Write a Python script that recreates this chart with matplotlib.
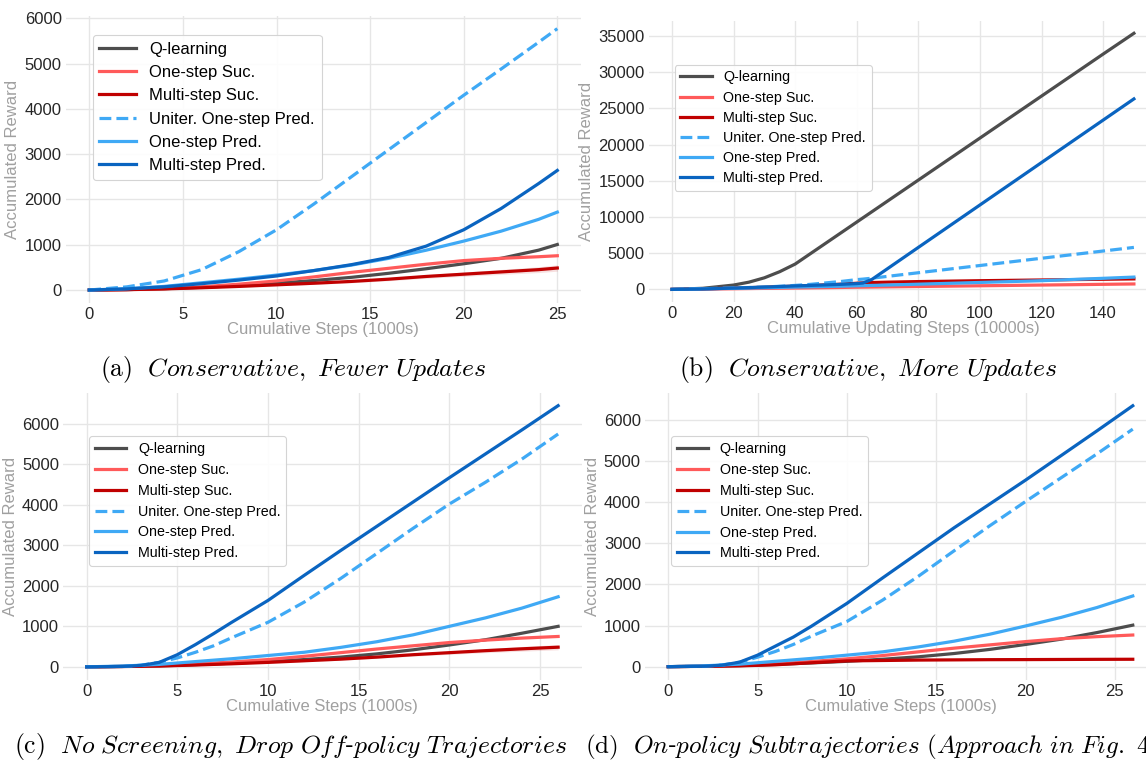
import numpy as np
import matplotlib
matplotlib.use("Agg")
import matplotlib.pyplot as plt

plt.rcParams['font.family'] = ['Liberation Sans', 'DejaVu Sans']
plt.rcParams['mathtext.fontset'] = 'cm'

W, H = 1146, 763

labels = ["Q-learning", "One-step Suc.", "Multi-step Suc.",
          "Uniter. One-step Pred.", "One-step Pred.", "Multi-step Pred."]
colors = ["#4d4d4d", "#ff5a5a", "#c00000", "#3fa9f5", "#3fa9f5", "#0a64c0"]
styles = ["-", "-", "-", "--", "-", "-"]

# (a) Conservative, fewer updates
x_a = [0, 2, 4, 6, 8, 10, 12, 14, 16, 18, 20, 22, 24, 25]
q_a = [0, 10, 30, 60, 100, 150, 210, 280, 370, 470, 580, 700, 880, 1005]
onesuc_a = [0, 10, 30, 70, 130, 200, 290, 390, 480, 570, 650, 700, 735, 757]
multisuc_a = [0, 8, 25, 50, 80, 115, 150, 190, 240, 300, 350, 400, 450, 486]
uniter_a = [0, 70, 200, 450, 850, 1330, 1900, 2500, 3100, 3700, 4300, 4880, 5470, 5770]
onepred_a = [0, 30, 80, 160, 240, 330, 430, 550, 700, 880, 1080, 1300, 1560, 1720]
multipred_a = [0, 25, 70, 140, 220, 310, 430, 560, 720, 970, 1330, 1800, 2350, 2640]
band_a = [0, 3, 6, 10, 15, 20, 25, 30, 35, 40, 48, 55, 65, 70]

# (b) Conservative, more updates
x_b = [0, 10, 20, 25, 30, 35, 40, 45, 50, 55, 60, 62, 65, 70, 80, 90, 100, 110, 120,
       130, 140, 150]
q_b = [0, 150, 600, 1000, 1600, 2450, 3500, 4950, 6400, 7850, 9300, 9880, 10750, 12200,
       15100, 18000, 20900, 23800, 26700, 29600, 32500, 35370]
onesuc_b = [0, 40, 90, 115, 140, 165, 190, 215, 240, 270, 300, 310, 325, 350, 400, 450,
            500, 550, 600, 650, 700, 750]
multisuc_b = [0, 80, 180, 240, 300, 370, 450, 530, 620, 720, 850, 900, 950, 1000, 1080,
              1140, 1200, 1250, 1300, 1350, 1400, 1450]
uniter_b = [0, 100, 200, 260, 330, 430, 550, 700, 900, 1100, 1350, 1420, 1550, 1800,
            2300, 2800, 3300, 3800, 4300, 4800, 5300, 5800]
onepred_b = [0, 80, 150, 190, 230, 275, 320, 360, 400, 440, 500, 520, 550, 600, 720, 840,
             960, 1080, 1200, 1370, 1530, 1700]
multipred_b = [0, 60, 180, 250, 320, 400, 480, 550, 620, 700, 800, 880, 1400, 2865, 5800,
               8730, 11660, 14590, 17520, 20450, 23380, 26310]

# (c) No screening, drop off-policy trajectories
x_c = [0, 2, 3, 4, 5, 6, 7, 8, 10, 12, 14, 16, 18, 20, 22, 24, 26]
q_c = [0, 10, 17, 25, 38, 55, 72, 90, 130, 180, 240, 320, 420, 540, 670, 830, 1000]
onesuc_c = [0, 10, 18, 30, 48, 70, 95, 120, 180, 260, 350, 440, 520, 600, 660, 710, 750]
multisuc_c = [0, 8, 13, 20, 32, 45, 60, 75, 110, 150, 190, 240, 300, 350, 400, 445, 485]
uniter_c = [0, 10, 40, 110, 220, 360, 520, 720, 1100, 1600, 2180, 2800, 3420, 4020,
            4560, 5130, 5750]
onepred_c = [0, 20, 40, 60, 95, 130, 165, 200, 280, 360, 480, 620, 790, 1000, 1210,
             1450, 1730]
multipred_c = [0, 10, 35, 110, 300, 550, 820, 1100, 1640, 2260, 2870, 3470, 4070, 4670,
               5260, 5850, 6450]
band_c = [0, 3, 4, 5, 6, 8, 10, 12, 16, 20, 25, 30, 36, 42, 50, 58, 65]

# (d) On-policy subtrajectories
x_d = [0, 2, 3, 4, 5, 6, 7, 8, 10, 12, 14, 16, 18, 20, 22, 24, 26]
q_d = [0, 10, 17, 25, 38, 55, 72, 90, 130, 180, 240, 320, 420, 540, 670, 830, 1010]
onesuc_d = [0, 10, 18, 30, 48, 70, 95, 125, 190, 270, 360, 450, 530, 610, 680, 730, 770]
multisuc_d = [0, 8, 13, 20, 32, 45, 70, 95, 140, 150, 160, 165, 170, 172, 175, 178, 180]
uniter_d = [0, 10, 40, 110, 230, 370, 540, 740, 1100, 1620, 2200, 2820, 3430, 4020,
            4600, 5180, 5780]
onepred_d = [0, 20, 40, 60, 95, 130, 165, 200, 280, 360, 480, 620, 790, 990, 1200,
             1440, 1720]
multipred_d = [0, 10, 35, 110, 280, 500, 720, 980, 1540, 2160, 2770, 3380, 3960, 4540,
               5140, 5740, 6350]

captions = [r"$\mathrm{(a)}\ \ \mathit{Conservative,\ Fewer\ Updates}$",
            r"$\mathrm{(b)}\ \ \mathit{Conservative,\ More\ Updates}$",
            r"$\mathrm{(c)}\ \ \mathit{No\ Screening,\ Drop\ Off}$‐$\mathit{policy\ Trajectories}$",
            r"$\mathrm{(d)}\ \ \mathit{On}$‐$\mathit{policy\ Subtrajectories\ (Approach\ in\ Fig.\ 4)}$"]

xlabels = ["Cumulative Steps (1000s)", "Cumulative Updating Steps (10000s)",
           "Cumulative Steps (1000s)", "Cumulative Steps (1000s)"]


def px(left, top, right, bottom):
    return [left / W, 1 - bottom / H, (right - left) / W, (bottom - top) / H]


fig = plt.figure(figsize=(W / 100, H / 100), dpi=100)

panels = [
    (px(65.9, 15.6, 580.7, 303.1), x_a,
     [q_a, onesuc_a, multisuc_a, uniter_a, onepred_a, multipred_a], band_a,
     np.arange(0, 26, 5), np.arange(0, 6001, 1000), 12, 0.5, (0.052, 0.933)),
    (px(648.9, 20.5, 1157, 302.2), x_b,
     [q_b, onesuc_b, multisuc_b, uniter_b, onepred_b, multipred_b], None,
     np.arange(0, 141, 20), np.arange(0, 35001, 5000), 10.3, 0.43, (0.0506, 0.843)),
    (px(63.1, 392.6, 581.7, 679.9), x_c,
     [q_c, onesuc_c, multisuc_c, uniter_c, onepred_c, multipred_c], band_c,
     np.arange(0, 26, 5), np.arange(0, 6001, 1000), 10.3, 0.48, (0.0505, 0.848)),
    (px(645, 392.7, 1156, 679.7), x_d,
     [q_d, onesuc_d, multisuc_d, uniter_d, onepred_d, multipred_d], None,
     np.arange(0, 26, 5), np.arange(0, 6001, 1000), 10.3, 0.48, (0.0513, 0.848)),
]

for i, (rect, xs, series, band, xt, yt, legfs, legsp, legpos) in enumerate(panels):
    ax = fig.add_axes(rect)
    for ys, lab, col, ls in zip(series, labels, colors, styles):
        ax.plot(xs, ys, color=col, linestyle=ls, linewidth=2.3, label=lab)
    if band is not None:
        ms = np.array(series[2])
        bw = np.array(band)
        ax.fill_between(xs, ms - bw, ms + bw, color="#c00000", alpha=0.12, linewidth=0)
    ax.set_xlim(xs[0] - 0.05 * (xs[-1] - xs[0]), xs[-1] + 0.05 * (xs[-1] - xs[0]))
    ymax = max(max(s) for s in series)
    ax.set_ylim(-0.05 * ymax, 1.05 * ymax)
    ax.set_xticks(xt)
    ax.set_yticks(yt)
    for sp in ax.spines.values():
        sp.set_visible(False)
    ax.grid(True, color="#e6e6e6", linewidth=1.0)
    ax.set_axisbelow(True)
    ax.tick_params(length=0, labelsize=12, labelcolor="#262626", pad=3)
    ax.set_xlabel(xlabels[i], fontsize=12, color="#a0a0a0", labelpad=0)
    ax.set_ylabel("Accumulated Reward", fontsize=12, color="#a0a0a0", labelpad=3)
    leg = ax.legend(loc="upper left", bbox_to_anchor=legpos, borderaxespad=0,
                    fontsize=legfs, handlelength=2.2, labelspacing=legsp,
                    frameon=True, fancybox=True, framealpha=0.9,
                    edgecolor="#d0d0d0", facecolor="white")
    leg.get_frame().set_linewidth(0.8)

fig.text(293 / W, 1 - 370 / H, captions[0], fontsize=18.5, ha="center", va="center")
fig.text(868.6 / W, 1 - 370 / H, captions[1], fontsize=18.5, ha="center", va="center")
fig.text(291 / W, 1 - 747 / H, captions[2], fontsize=18.5, ha="center", va="center")
# the reference image is cropped at the right, cutting this caption
fig.text(584.7 / W, 1 - 747 / H, captions[3], fontsize=18.1, ha="left", va="center")

fig.savefig("out.png", dpi=100)
